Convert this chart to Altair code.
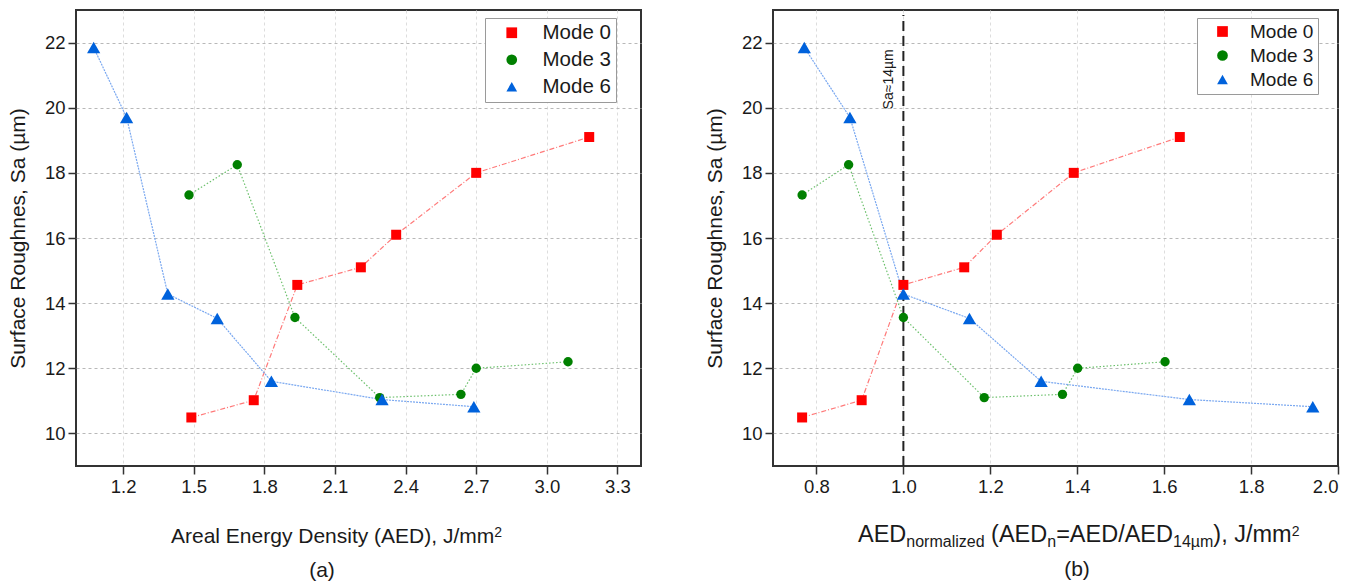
import altair as alt
import pandas as pd

# ---------------- data ----------------
MODES = ["Mode 0", "Mode 3", "Mode 6"]
COLORS = ["#ff0000", "#008000", "#0062dc"]
SHAPES = ["square", "circle", "triangle-up"]
MARK_SIZES = {"Mode 0": 100, "Mode 3": 88, "Mode 6": 175}

# Surface roughness Sa (µm) – identical in both panels
sa_m0 = [10.49, 11.02, 14.56, 15.10, 16.10, 18.00, 19.10]
sa_m3 = [17.32, 18.25, 13.56, 11.10, 11.20, 12.00, 12.20]
sa_m6 = [21.85, 19.70, 14.28, 13.53, 11.60, 11.04, 10.82]

# (a) Areal energy density, J/mm2
aed_m0 = [1.49, 1.755, 1.94, 2.21, 2.36, 2.70, 3.18]
aed_m3 = [1.48, 1.685, 1.93, 2.29, 2.635, 2.70, 3.09]
aed_m6 = [1.075, 1.215, 1.39, 1.60, 1.83, 2.30, 2.69]

# (b) normalized AED
aedn_m0 = [0.767, 0.904, 1.0, 1.14, 1.215, 1.392, 1.636]
aedn_m3 = [0.767, 0.874, 1.0, 1.186, 1.366, 1.401, 1.602]
aedn_m6 = [0.772, 0.877, 1.0, 1.152, 1.317, 1.658, 1.942]

xticks_a = [1.2, 1.5, 1.8, 2.1, 2.4, 2.7, 3.0, 3.3]
xticks_b = [0.8, 1.0, 1.2, 1.4, 1.6, 1.8, 2.0]
yticks = [10, 12, 14, 16, 18, 20, 22]

ref_x = [1.0]            # AED_n = 1 (Sa = 14 µm)
ref_y = [9.0, 22.85]
ref_label_y = [20.87]


def make_df(xs_list):
    rows = []
    for mode, xs, ys in zip(MODES, xs_list, [sa_m0, sa_m3, sa_m6]):
        for i, (xv, yv) in enumerate(zip(xs, ys)):
            rows.append({"mode": mode, "x": xv, "sa": yv, "idx": i})
    return pd.DataFrame(rows)


df_a = make_df([aed_m0, aed_m3, aed_m6])
df_b = make_df([aedn_m0, aedn_m3, aedn_m6])

# ---------------- style helpers ----------------
FONT = "Liberation Sans"
TXT = "#1a1a1a"
W, H = 565, 456

ARIAL = {" ": .278, "(": .333, ")": .333, ",": .278, "/": .278, "1": .556, "2": .556,
         "4": .556, "=": .584, "A": .667, "D": .722, "E": .667, "J": .5, "a": .556,
         "d": .556, "e": .556, "g": .556, "i": .222, "l": .222, "m": .833, "n": .556,
         "o": .556, "r": .333, "s": .5, "t": .278, "y": .5, "z": .5, "µ": .576}


def text_w(s, fs):
    return sum(ARIAL.get(c, .556) for c in s) * fs


one_row = pd.DataFrame({"k": [0]})

LINE_STYLE = {
    "Mode 0": dict(color="#ff7a7a", strokeDash=[5, 2, 1, 2]),
    "Mode 3": dict(color="#6cc06c", strokeDash=[1.5, 2]),
    "Mode 6": dict(color="#7aa8f0", strokeDash=[2, 1]),
}

size_expr = " : ".join(
    [f"datum.mode == '{m}' ? {s}" for m, s in MARK_SIZES.items()]) + " : 100"


def rich_title(parts, x0, base):
    layers = []
    x = x0
    for s, fs, dy in parts:
        stripped = s.lstrip(" ")
        x += text_w(s[: len(s) - len(stripped)], fs)
        layers.append(
            alt.Chart(one_row).mark_text(
                text=stripped, font=FONT, fontSize=fs, color=TXT, align="left",
                baseline="alphabetic"
            ).encode(x=alt.value(x), y=alt.value(base + dy))
        )
        x += text_w(stripped, fs)
    return layers


def panel(df, xdomain, xticks, leg, title_parts, title_x, title_base,
          plabel, plabel_x, plabel_base, extra=()):
    xenc = alt.X("x:Q", scale=alt.Scale(domain=xdomain, nice=False, zero=False),
                 axis=alt.Axis(values=xticks, format=".1f", title=None,
                               gridOpacity=alt.condition(f"datum.value >= {xdomain[1] - 1e-6}",
                                                         alt.value(0), alt.value(1))))
    yenc = alt.Y("sa:Q", scale=alt.Scale(domain=[9, 23], nice=False, zero=False),
                 axis=alt.Axis(values=yticks, title="Surface Roughnes, Sa (µm)"))
    layers = []
    for m in MODES:
        st = LINE_STYLE[m]
        layers.append(
            alt.Chart(df).transform_filter(alt.datum.mode == m).mark_line(
                color=st["color"], strokeDash=st["strokeDash"], strokeWidth=1.2,
            ).encode(x=xenc, y=yenc, order="idx:Q")
        )
    layers.extend(extra)
    legend = alt.Legend(
        orient="none", legendX=leg["x"], legendY=leg["y"], title=None,
        fillColor="white", strokeColor="#9a9a9a", padding=leg["pad"],
        labelFont=FONT, labelFontSize=leg["fs"], labelColor=TXT,
        symbolOffset=leg["so"], labelOffset=leg["lo"], rowPadding=leg["rp"],
        symbolStrokeWidth=0, symbolSize=115, cornerRadius=0,
    )
    layers.append(
        alt.Chart(df).transform_calculate(msize=size_expr)
        .mark_point(filled=True, opacity=1).encode(
            x=xenc, y=yenc,
            color=alt.Color("mode:N", scale=alt.Scale(domain=MODES, range=COLORS), legend=legend),
            shape=alt.Shape("mode:N", scale=alt.Scale(domain=MODES, range=SHAPES), legend=legend),
            size=alt.Size("msize:Q", scale=None),
        )
    )
    layers.extend(rich_title(title_parts, title_x, title_base))
    layers.append(
        alt.Chart(one_row).mark_text(
            text=plabel, font=FONT, fontSize=21, color=TXT, align="center",
            baseline="alphabetic"
        ).encode(x=alt.value(plabel_x), y=alt.value(plabel_base))
    )
    return alt.layer(*layers).properties(width=W, height=H)


# reference line and its label for panel (b)
ref_df = pd.DataFrame({"x": ref_x, "y": [ref_y[0]], "y2": [ref_y[1]]})
lab_df = pd.DataFrame({"x": ref_x, "y": ref_label_y})
xs_b = alt.Scale(domain=[0.7, 2.0], nice=False, zero=False)
ys_b = alt.Scale(domain=[9, 23], nice=False, zero=False)
rule = alt.Chart(ref_df).mark_rule(color="#222222", strokeWidth=2, strokeDash=[10, 5]).encode(
    x=alt.X("x:Q", scale=xs_b), y=alt.Y("y:Q", scale=ys_b), y2="y2:Q")
rule_lab = alt.Chart(lab_df).mark_text(
    text="Sa≈14µm", font=FONT, fontSize=14, color=TXT, angle=270,
    align="center", baseline="bottom", dy=-7
).encode(x=alt.X("x:Q", scale=xs_b), y=alt.Y("y:Q", scale=ys_b))

left = panel(
    df_a, [1.0, 3.4], xticks_a,
    dict(x=409, y=8, pad=4.5, fs=20.5, so=12, lo=20.5, rp=6),
    [("Areal Energy Density (AED), J/mm", 21, 0), ("2", 14, -6)], 95, 532.5,
    "(a)", 246, 567,
)
right = panel(
    df_b, [0.7, 2.0], xticks_b,
    dict(x=424, y=8, pad=4, fs=19, so=12, lo=18, rp=4),
    [("AED", 23.5, 0), ("normalized", 16, 5), (" (AED", 23.5, 0), ("n", 16, 5),
     ("=AED/AED", 23.5, 0), ("14µm", 16, 5), ("), J/mm", 23.5, 0), ("2", 14, -6)],
    85, 531.5,
    "(b)", 304, 566,
    extra=(rule, rule_lab),
)

chart = (
    alt.hconcat(left, right, spacing=61)
    .resolve_scale(color="independent", shape="independent")
    .properties(padding={"left": 6, "top": 9, "right": 5, "bottom": 0})
    .configure_view(stroke="#333333", strokeWidth=2)
    .configure_axis(
        labelFont=FONT, labelFontSize=18.5, labelColor=TXT, labelPadding=3,
        tickColor="#333333", tickSize=8, tickWidth=1.5, domain=False,
        titleFont=FONT, titleFontSize=21, titleFontWeight="normal", titleColor=TXT,
        titlePadding=16, gridDash=[3, 3], gridWidth=1,
    )
    .configure_axisX(gridColor="#dddddd")
    .configure_axisY(gridColor="#b8b8b8")
)

chart.save("out.html", embed_options={"renderer": "svg", "actions": False})
